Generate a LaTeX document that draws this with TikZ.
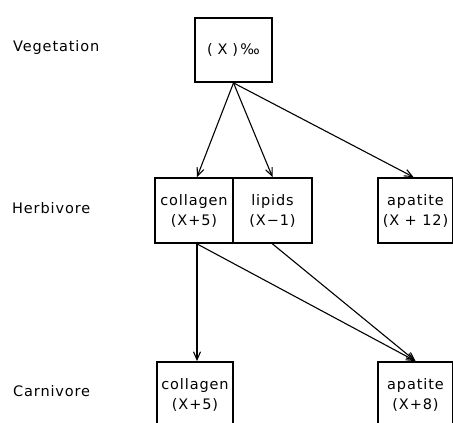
\documentclass[tikz,border=0pt]{standalone}
\usepackage{fontspec}
\setmainfont[LetterSpace=6]{DejaVu Sans}
\usetikzlibrary{arrows.meta}

\begin{document}
\begin{tikzpicture}[x=1pt, y=-1pt,
	box/.style={draw, line width=1.8pt, minimum height=65pt, inner sep=0pt, align=center,
		font=\fontsize{14.5}{20}\selectfont},
	level/.style={anchor=base west, inner sep=0pt, font=\fontsize{14.5}{20}\selectfont},
	arr/.style={line width=1.1pt, -{Straight Barb[length=8pt,width=7pt]}}]
	
	% Rahmen des Bildes
	\useasboundingbox (0,0) rectangle (453,423);
	\clip (0,0) rectangle (453,423);
	
	% Ebenen
	\node[level] (lveg) at (13,51) {Vegetation};
	\node[level] (lherb) at (12,213) {Herbivore};
	\node[level] (lcarn) at (13,396) {Carnivore};
	
	% Kaesten
	\node[box, minimum width=77pt, minimum height=64pt] (veg) at (233.5,50) {(\,\,X\,\,)\,‰};
	
	\node[box, minimum width=78pt] (hcol) at (194,210.5) {collagen\\(X+5)};
	\node[box, minimum width=79pt] (hlip) at (272.5,210.5) {lipids\\(X−1)};
	\node[box, minimum width=75pt] (hapa) at (415.5,210.5) {apatite\\(X + 12)};
	
	\node[box, minimum width=76pt] (ccol) at (195,394.5) {collagen\\(X+5)};
	\node[box, minimum width=75pt] (capa) at (415.5,394.5) {apatite\\(X+8)};
	
	% Pfeile
	\draw[arr] (veg.south) -- ([xshift=3pt]hcol.north);
	\draw[arr] (veg.south) -- (hlip.north);
	\draw[arr] (veg.south) -- ([xshift=-2pt]hapa.north);
	
	\draw[arr] ([xshift=3pt]hcol.south) -- ([xshift=2pt]ccol.north);
	\draw[arr] ([xshift=3pt]hcol.south) -- (capa.north);
	\draw[arr] (hlip.south) -- (capa.north);
\end{tikzpicture}
\end{document}
